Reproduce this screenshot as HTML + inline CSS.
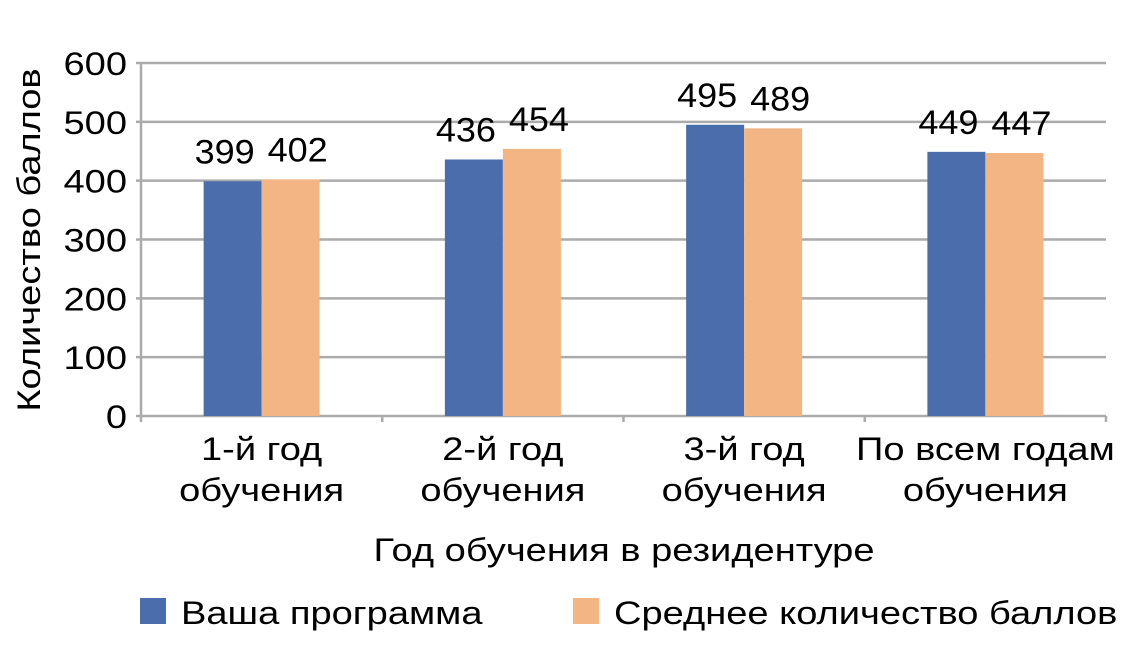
<!DOCTYPE html>
<html><head><meta charset="utf-8"><style>
body{margin:0;background:#fff;}
svg{display:block;font-family:"Liberation Sans",sans-serif;}
</style></head><body>
<svg id="chart" width="1145" height="656" viewBox="0 0 1145 656"></svg>
<script>
const categories = [["1-й год","обучения"],["2-й год","обучения"],["3-й год","обучения"],["По всем годам","обучения"]];
const seriesProgram = [399, 436, 495, 449];
const seriesAverage = [402, 454, 489, 447];
const yTicks = [0,100,200,300,400,500,600];
const seriesNames = ["Ваша программа","Среднее количество баллов"];
const colors = ["#4a6dac","#f3b584"];

const svg = document.getElementById('chart');
const NS = "http://www.w3.org/2000/svg";
const X0 = 141, X1 = 1106, Y0 = 416, Y1 = 63;
const SX = 1.19;
const yScale = v => Y0 - (v/600)*(Y0-Y1);
const band = (X1-X0)/categories.length;
const xCenter = i => X0 + band*(i+0.5);
const barW = 58;
function el(tag, attrs, parent){const e=document.createElementNS(NS,tag);for(const k in attrs)e.setAttribute(k,attrs[k]);(parent||svg).appendChild(e);return e;}
function txt(x,y,s,size,anchor,sx){
  const t=el('text',{x:0,y:0,'text-anchor':anchor,'font-size':size,fill:'#000',
    transform:'translate('+x+','+y+') scale('+(sx||SX)+',1)'});
  t.textContent=s;return t;
}

yTicks.forEach(t=>{
  const y=yScale(t);
  const g=el('line',{x1:X0-5,x2:X1,y1:y,y2:y,stroke:'#ababab','stroke-width':2.5});
  
  
  const tx=txt(127,y+12,t,32,'end');
  
  
});
const ax=el('line',{x1:X0,x2:X0,y1:Y1,y2:Y0,stroke:'#ababab','stroke-width':2.5});


for(let i=0;i<=categories.length;i++){
  const x=X0+band*i;
  const tk=el('line',{x1:x,x2:x,y1:Y0,y2:Y0+6,stroke:'#ababab','stroke-width':2.5});
  
  
}
categories.forEach((c,i)=>{
  const cx=xCenter(i);
  [seriesProgram,seriesAverage].forEach((s,k)=>{
    const x = k===0 ? cx-barW : cx;
    const y=yScale(s[i]);
    const r=el('rect',{x:x,y:y,width:barW,height:Y0-y,fill:colors[k]});
    
    
    const lt=txt(x+barW/2+(k===0?-8:7),y-18,s[i],34,'middle',1.06);
    
    
  });
  c.forEach((line,j)=>{
    const t=txt(cx,460+j*41,line,32,'middle');
    
    
  });
});
const xt=txt(624,561,"Год обучения в резидентуре",32,'middle');


const yt=el('text',{x:0,y:0,'text-anchor':'middle','font-size':32,fill:'#000',transform:'translate(40,240) rotate(-90) scale('+SX+',1)'});
yt.textContent="Количество баллов";


const legX=[140,573];
seriesNames.forEach((n,k)=>{
  const sw=el('rect',{x:legX[k],y:598,width:26,height:26,fill:colors[k]});
  
  
  const lt=txt(legX[k]+41,624,n,32,'start');
  
  
});
</script>
</body></html>
